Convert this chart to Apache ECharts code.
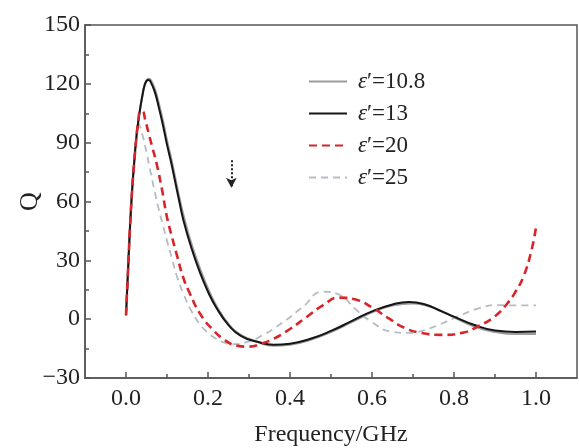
<!DOCTYPE html>
<html>
<head>
<meta charset="utf-8">
<script src="https://cdn.jsdelivr.net/npm/echarts@6/dist/echarts.min.js"></script>
<style>html,body{margin:0;padding:0;background:#fff;}#c{width:579px;height:448px;}</style>
</head>
<body>
<div id="c"></div>
<script>
// ---- data ----
const seriesNames = ['10.8', '13', '20', '25'];
const xTickLabels = [0, 0.2, 0.4, 0.6, 0.8, 1.0];
const xMinorTicks = [0.1, 0.3, 0.5, 0.7, 0.9];

const freq108 = [0,0.005,0.01,0.015,0.02,0.025,0.03,0.035,0.04,0.045,0.05,0.055,0.06,0.07,0.08,0.09,0.1,0.11,0.12,0.13,0.14,0.16,0.18,0.2,0.22,0.25,0.28,0.32,0.36,0.4,0.45,0.5,0.55,0.6,0.65,0.7,0.74,0.78,0.82,0.86,0.9,0.95,1.0];
const q108    = [2,25,48,66,80,92,101,108,114,119,121.5,122.5,122,117.5,110,101,91,82,72,62,53,38,26,15.5,7,-2.5,-8,-11.5,-13.5,-13,-10.5,-6.5,-1.5,3.5,7,8,6.5,3,-1,-4.5,-6.5,-7.5,-7.5];

const freq13 = [0,0.005,0.01,0.015,0.02,0.025,0.03,0.035,0.04,0.045,0.05,0.055,0.06,0.07,0.08,0.09,0.1,0.11,0.12,0.13,0.14,0.16,0.18,0.2,0.22,0.25,0.28,0.32,0.36,0.4,0.45,0.5,0.55,0.6,0.65,0.69,0.73,0.77,0.8,0.85,0.9,0.95,1.0];
const q13    = [2,25,48,66,80,92,101,108,114,119,121.5,122,121,116,108,99,89,80,70,60,50.5,36,24,14,6,-3,-8.5,-11.5,-13,-12.5,-10,-6,-1,4,7.5,8.8,7.5,4,1.3,-3,-5.8,-6.5,-6.3];

const freq20 = [0,0.005,0.01,0.015,0.02,0.025,0.03,0.035,0.04,0.047,0.055,0.065,0.075,0.087,0.1,0.112,0.125,0.14,0.156,0.18,0.21,0.24,0.27,0.3,0.33,0.36,0.4,0.44,0.48,0.52,0.56,0.6,0.64,0.68,0.72,0.77,0.82,0.86,0.9,0.93,0.95,0.97,0.99,1.0];
const q20    = [2,25,48,66,80,92,101,106,106,101.5,95,87,79,67,52,42,32,21,13,3,-5,-10.5,-13.5,-14,-12.5,-10,-5,1,7,11,10,6,0.5,-4.5,-7,-8,-7,-3.5,1.5,8,14,22,36,47];

const freq25 = [0,0.005,0.01,0.015,0.02,0.025,0.03,0.04,0.05,0.06,0.07,0.08,0.09,0.1,0.112,0.124,0.14,0.16,0.18,0.2,0.22,0.24,0.26,0.29,0.33,0.38,0.43,0.48,0.52,0.56,0.6,0.645,0.69,0.74,0.8,0.86,0.91,0.95,1.0];
const q25    = [2,25,48,66,80,92,100,94,85,75,65,56,48,40,31,22,13,4,-2.5,-7,-10,-12,-12.8,-12,-8.5,-2,6,14,12.5,5,-1.5,-6.3,-7,-4.7,0.5,5.5,7.2,7,7];

// arrow annotation (frequency, Q)
const arrowFrom = [0.257, 81];
const arrowTo = [0.257, 67];

function pairs(xs, ys) { return xs.map((x, i) => [x, ys[i]]); }

const FONT = "'Liberation Serif', 'Times New Roman', serif";
const AX = '#555';

const chart = echarts.init(document.getElementById('c'));
chart.setOption({
  animation: false,
  backgroundColor: '#fff',
  grid: { left: 85, right: 2, top: 25, bottom: 70, show: true, borderColor: AX, borderWidth: 1.5, outerBoundsMode: 'none', containLabel: false },
  legend: {
    orient: 'vertical', left: 303, top: 65, itemWidth: 38, itemHeight: 14, itemGap: 9,
    data: seriesNames,
    itemStyle: { opacity: 0 },
    formatter: n => '{e|ε}{p|′=' + n + '}',
    textStyle: {
      fontFamily: FONT, fontSize: 23, color: '#222', padding: [0, 0, 0, 6],
      rich: {
        e: { fontFamily: FONT, fontSize: 23, fontStyle: 'italic', color: '#222' },
        p: { fontFamily: FONT, fontSize: 23, color: '#222' }
      }
    }
  },
  xAxis: [{
    type: 'value', min: -0.1, max: 1.1,
    name: 'Frequency/GHz', nameLocation: 'middle', nameGap: 45,
    nameTextStyle: { fontFamily: FONT, fontSize: 24, color: '#222' },
    axisLine: { show: true, onZero: false, lineStyle: { color: AX, width: 1.5 } },
    axisTick: { show: true, inside: true, length: 6, customValues: xTickLabels, lineStyle: { color: AX, width: 1.5 } },
    axisLabel: { customValues: xTickLabels, margin: 9, fontFamily: FONT, fontSize: 24, color: '#222', formatter: v => v.toFixed(1) },
    splitLine: { show: false }
  }, {
    type: 'value', min: -0.1, max: 1.1, position: 'bottom', gridIndex: 0, offset: 0,
    axisLine: { show: false, onZero: false },
    axisTick: { show: true, inside: true, length: 4, customValues: xMinorTicks, lineStyle: { color: AX, width: 1.5 } },
    axisLabel: { show: false },
    splitLine: { show: false }
  }],
  yAxis: {
    type: 'value', min: -30, max: 150, interval: 30,
    name: 'Q', nameLocation: 'middle', nameGap: 42, nameRotate: 90, nameMoveOverlap: false,
    nameTextStyle: { fontFamily: FONT, fontSize: 26, color: '#222' },
    axisLine: { show: true, onZero: false, lineStyle: { color: AX, width: 1.5 } },
    axisTick: { show: true, inside: true, length: 6, lineStyle: { color: AX, width: 1.5 } },
    minorTick: { show: true, splitNumber: 2, length: 4, lineStyle: { color: AX, width: 1.5 } },
    axisLabel: { margin: 5, fontFamily: FONT, fontSize: 24, color: '#222', formatter: v => v < 0 ? '\u2212' + Math.abs(v) : String(v) },
    splitLine: { show: false }
  },
  series: [
    { name: '25', type: 'line', smooth: true, symbol: 'none', data: pairs(freq25, q25), z: 2,
      lineStyle: { color: '#b6bcc3', width: 1.8, type: [7, 5] }, itemStyle: { color: '#b6bcc3' } },
    { name: '10.8', type: 'line', smooth: true, symbol: 'none', data: pairs(freq108, q108), z: 3,
      lineStyle: { color: '#9c9c9c', width: 2.2 }, itemStyle: { color: '#9c9c9c' } },
    { name: '13', type: 'line', smooth: true, symbol: 'none', data: pairs(freq13, q13), z: 4,
      lineStyle: { color: '#151515', width: 2 }, itemStyle: { color: '#151515' },
      markLine: { silent: true, symbol: ['none', 'arrow'], symbolSize: [8, 10],
        label: { show: false },
        lineStyle: { type: 'dotted', color: '#222', width: 2 },
        data: [[{ coord: arrowFrom }, { coord: arrowTo }]] } },
    { name: '20', type: 'line', smooth: true, symbol: 'none', data: pairs(freq20, q20), z: 5,
      lineStyle: { color: '#d6252b', width: 2.6, type: [8, 5] }, itemStyle: { color: '#d6252b' } }
  ]
});
</script>
</body>
</html>
